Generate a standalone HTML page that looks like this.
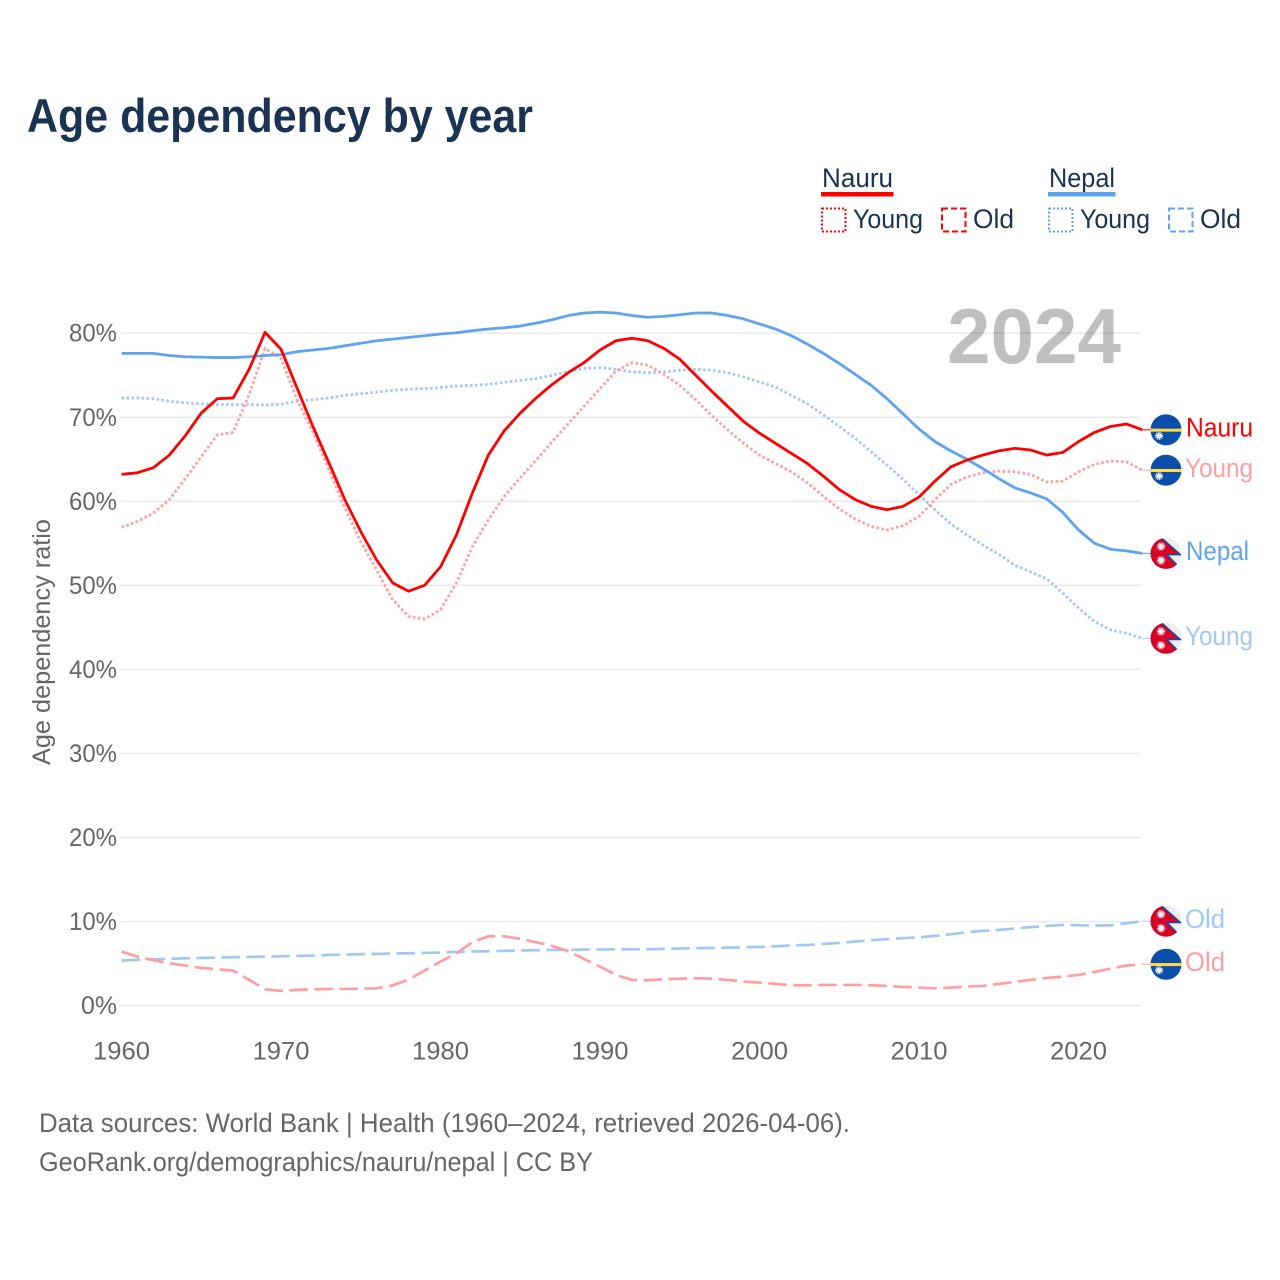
<!DOCTYPE html>
<html lang="en">
<head>
<meta charset="utf-8">
<title>Age dependency by year</title>
<style>
  html, body { margin: 0; padding: 0; background: #fff; }
  svg { display: block; font-family: "Liberation Sans", sans-serif; }
  .tick { fill: #666; font-size: 25px; }
  .legend-text { fill: #1b3353; font-size: 27px; }
  .foot { fill: #666; font-size: 27px; }
</style>
</head>
<body>
<svg id="chart" xmlns="http://www.w3.org/2000/svg" width="1280" height="1280" viewBox="0 0 1280 1280">
  <defs>
    <clipPath id="flag-clip"><circle cx="0" cy="0" r="15.5"></circle></clipPath>
    <g id="flag-nauru" clip-path="url(#flag-clip)">
      <rect x="-16" y="-16" width="32" height="32" fill="#0a4eab"></rect>
      <rect x="-16" y="-1.2" width="32" height="3" fill="#ffda44"></rect>
      <circle cx="-7" cy="6" r="2.6" fill="#f0f0f0"></circle>
      <circle cx="-7" cy="6" r="3.3" fill="none" stroke="#f0f0f0" stroke-width="1.6" stroke-dasharray="1.1 0.9"></circle>
    </g>
    <g id="flag-nepal" clip-path="url(#flag-clip)">
      <rect x="-16" y="-16" width="32" height="32" fill="#eeeeee"></rect>
      <polygon points="-16,-16 -5,-16 14.5,1.3 1,1.3 14.5,15 14.5,17 -16,17" fill="#d80027" stroke="#0a4eab" stroke-width="1.4"></polygon>
      <circle cx="-5" cy="-7" r="2.8" fill="#f0f0f0"></circle>
      <circle cx="-5" cy="-7" r="3.5" fill="none" stroke="#f0f0f0" stroke-width="1.6" stroke-dasharray="1.1 0.9"></circle>
      <circle cx="-5" cy="7" r="2.8" fill="#f0f0f0"></circle>
      <circle cx="-5" cy="7" r="3.5" fill="none" stroke="#f0f0f0" stroke-width="1.6" stroke-dasharray="1.1 0.9"></circle>
    </g>
  </defs>

  <rect x="0" y="0" width="1280" height="1280" fill="#ffffff"></rect>

  <text x="27" y="132" font-size="47" font-weight="700" fill="#1b3353" textLength="506" lengthAdjust="spacingAndGlyphs">Age dependency by year</text>

  <g>
    <g>
      <text class="legend-text" x="822" y="187" textLength="71" lengthAdjust="spacingAndGlyphs">Nauru</text>
      <rect x="821" y="192" width="72.5" height="4.5" fill="#ff0000"></rect>
      <rect x="822" y="208.500" width="23.500" height="23" fill="none" stroke="#ff0000" stroke-width="2" stroke-dasharray="2 2"></rect>
      <text class="legend-text" x="853" y="228" textLength="70" lengthAdjust="spacingAndGlyphs">Young</text>
      <rect x="942" y="208.500" width="23.500" height="23" fill="none" stroke="#ff0000" stroke-width="2" stroke-dasharray="6 3"></rect>
      <text class="legend-text" x="973" y="228" textLength="41" lengthAdjust="spacingAndGlyphs">Old</text>
    </g>
    <g>
      <text class="legend-text" x="1049" y="187" textLength="66" lengthAdjust="spacingAndGlyphs">Nepal</text>
      <rect x="1048" y="192" width="67.500" height="4.5" fill="#5ea3ee"></rect>
      <rect x="1049" y="208.500" width="23.500" height="23" fill="none" stroke="#5ea3ee" stroke-width="2" stroke-dasharray="2 2"></rect>
      <text class="legend-text" x="1080" y="228" textLength="70" lengthAdjust="spacingAndGlyphs">Young</text>
      <rect x="1169" y="208.500" width="23.500" height="23" fill="none" stroke="#5ea3ee" stroke-width="2" stroke-dasharray="6 3"></rect>
      <text class="legend-text" x="1200" y="228" textLength="41" lengthAdjust="spacingAndGlyphs">Old</text>
    </g>
  </g>

  <g id="grid"></g>
  <g id="yticks"></g>
  <g id="xticks"></g>

  <text transform="translate(50,642) rotate(-90)" text-anchor="middle" font-size="25" fill="#666" textLength="246" lengthAdjust="spacingAndGlyphs">Age dependency ratio</text>

  <text x="947" y="363" font-size="78" font-weight="700" fill="#000000" fill-opacity="0.25" textLength="174" lengthAdjust="spacingAndGlyphs">2024</text>

  <g id="series"></g>
  <g id="endmarks"></g>

  <text class="foot" x="39" y="1132" textLength="811" lengthAdjust="spacingAndGlyphs">Data sources: World Bank | Health (1960–2024, retrieved 2026-04-06).</text>
  <text class="foot" x="39" y="1171" textLength="554" lengthAdjust="spacingAndGlyphs">GeoRank.org/demographics/nauru/nepal | CC BY</text>
</svg>

<script>
const startYear = 1960;
const xTickYears = [1960, 1970, 1980, 1990, 2000, 2010, 2020];
const yTickValues = [0, 10, 20, 30, 40, 50, 60, 70, 80];

const nauruTotal = [63.2,63.4,64.0,65.5,67.8,70.5,72.2,72.3,75.7,80.1,78.1,73.5,68.9,64.6,60.2,56.4,53.0,50.3,49.3,50.0,52.2,56.0,61.0,65.5,68.4,70.5,72.3,73.9,75.3,76.5,78.0,79.1,79.4,79.1,78.2,76.9,75.0,73.1,71.3,69.5,68.1,66.9,65.7,64.5,63.0,61.4,60.2,59.4,59.0,59.4,60.5,62.4,64.1,64.9,65.5,66.0,66.3,66.1,65.5,65.8,67.1,68.2,68.9,69.2,68.5];
const nauruYoung = [56.9,57.6,58.6,60.2,62.7,65.3,67.9,68.2,72.7,78.2,77.0,72.1,68.2,63.8,59.2,55.2,51.8,48.3,46.3,46.0,47.1,50.3,54.6,57.8,60.6,62.8,64.9,67.1,69.2,71.3,73.4,75.5,76.5,76.2,75.1,73.8,72.1,70.2,68.5,66.9,65.5,64.5,63.5,62.2,60.6,59.1,57.9,57.0,56.6,57.1,58.2,60.2,62.0,62.9,63.4,63.6,63.5,63.2,62.3,62.4,63.5,64.4,64.8,64.7,63.7];
const nauruOld = [6.43,5.83,5.4,5.04,4.76,4.48,4.33,4.17,3.06,1.94,1.75,1.87,1.94,1.98,1.98,2.02,2.06,2.4,3.1,4.17,5.24,6.23,7.54,8.25,8.25,7.94,7.54,7.1,6.5,5.55,4.64,3.65,3.06,3.02,3.13,3.2,3.25,3.2,3.05,2.86,2.74,2.58,2.42,2.42,2.46,2.46,2.46,2.42,2.34,2.22,2.14,2.06,2.14,2.26,2.34,2.58,2.82,3.06,3.29,3.45,3.65,4.0,4.4,4.76,4.92];
const nepalTotal = [77.6,77.6,77.6,77.35,77.2,77.15,77.1,77.1,77.2,77.35,77.45,77.8,78.0,78.2,78.5,78.8,79.1,79.3,79.5,79.7,79.9,80.05,80.3,80.5,80.65,80.85,81.2,81.6,82.1,82.4,82.5,82.4,82.1,81.9,82.0,82.2,82.4,82.4,82.1,81.7,81.1,80.5,79.7,78.7,77.6,76.4,75.1,73.8,72.2,70.4,68.6,67.1,66.0,65.0,63.9,62.7,61.6,61.0,60.3,58.7,56.6,55.0,54.3,54.1,53.8];
const nepalYoung = [72.3,72.3,72.2,71.9,71.7,71.6,71.5,71.5,71.5,71.45,71.55,71.9,72.1,72.3,72.6,72.8,73.0,73.2,73.35,73.4,73.55,73.7,73.8,73.9,74.15,74.4,74.6,75.0,75.45,75.8,75.9,75.7,75.4,75.3,75.4,75.6,75.7,75.6,75.3,74.8,74.2,73.6,72.6,71.6,70.3,68.9,67.5,65.9,64.3,62.6,60.8,59.0,57.3,56.0,54.8,53.7,52.4,51.6,50.8,49.1,47.3,45.7,44.7,44.3,43.7];
const nepalOld = [5.36,5.44,5.52,5.56,5.63,5.67,5.71,5.75,5.79,5.83,5.87,5.91,5.95,6.03,6.07,6.11,6.15,6.19,6.23,6.27,6.31,6.39,6.43,6.47,6.51,6.55,6.59,6.63,6.63,6.67,6.67,6.7,6.7,6.7,6.75,6.79,6.83,6.87,6.9,6.94,6.98,7.06,7.14,7.22,7.34,7.46,7.62,7.78,7.9,8.02,8.13,8.29,8.49,8.73,8.89,9.0,9.17,9.33,9.48,9.6,9.56,9.52,9.56,9.8,10.04];

const NS = 'http://www.w3.org/2000/svg';
function xPos(year) { return 121.5 + (year - startYear) * 15.95; }
function yPos(value) { return 1005.6 - value * 8.405; }
function make(tag, attrs, parent) {
  const el = document.createElementNS(NS, tag);
  for (const key in attrs) el.setAttribute(key, attrs[key]);
  parent.appendChild(el);
  return el;
}

const gridGroup = document.getElementById('grid');
const yTickGroup = document.getElementById('yticks');
const xTickGroup = document.getElementById('xticks');
const seriesGroup = document.getElementById('series');
const endGroup = document.getElementById('endmarks');

yTickValues.forEach(function (v) {
  const line = make('line', { x1: 121, x2: 1141, y1: yPos(v), y2: yPos(v), stroke: '#e8e8e8', 'stroke-width': 1.4 }, gridGroup);
  
  
  const label = make('text', { x: 117, y: yPos(v) + 8.5, 'text-anchor': 'end', class: 'tick', textLength: v === 0 ? 36 : 48, lengthAdjust: 'spacingAndGlyphs' }, yTickGroup);
  label.textContent = v + '%';
  
  
});

xTickYears.forEach(function (y) {
  const label = make('text', { x: xPos(y), y: 1059.5, 'text-anchor': 'middle', class: 'tick', textLength: 57, lengthAdjust: 'spacingAndGlyphs' }, xTickGroup);
  label.textContent = String(y);
  
  
});

function drawSeries(name, values, color, width, dash) {
  const pts = values.map(function (v, i) { return xPos(startYear + i).toFixed(2) + ',' + yPos(v).toFixed(2); }).join(' ');
  const attrs = { points: pts, fill: 'none', stroke: color, 'stroke-width': width, 'stroke-linejoin': 'round' };
  if (dash) attrs['stroke-dasharray'] = dash;
  const line = make('polyline', attrs, seriesGroup);
  
  
}

function drawEnd(name, values, color, flag, text, labelX, labelWidth) {
  const last = values[values.length - 1];
  const y = yPos(last);
  const leader = make('line', { x1: xPos(startYear + values.length - 1), x2: 1152, y1: y, y2: y, stroke: color, 'stroke-width': 1 }, endGroup);
  
  
  const icon = make('use', { href: '#flag-' + flag, x: 1166, y: y }, endGroup);
  
  
  const label = make('text', { x: labelX, y: y + 6.6, fill: color, 'font-size': 27, textLength: labelWidth, lengthAdjust: 'spacingAndGlyphs' }, endGroup);
  label.textContent = text;
  
  
}

const colorRed = '#ff0000';
const colorRedSoft = '#ff9d9f';
const colorBlue = '#5ea3ee';
const colorBlueSoft = '#a0c8f3';
const dotted = '2.6 2.4';
const dashed = '18.5 6.5';

drawSeries('nepal-old', nepalOld, colorBlueSoft, 2.7, dashed);
drawSeries('nauru-old', nauruOld, colorRedSoft, 2.7, dashed);
drawSeries('nepal-young', nepalYoung, colorBlueSoft, 2.8, dotted);
drawSeries('nauru-young', nauruYoung, colorRedSoft, 2.8, dotted);
drawSeries('nepal-total', nepalTotal, colorBlue, 2.8, null);
drawSeries('nauru-total', nauruTotal, colorRed, 2.8, null);

drawEnd('nauru-total', nauruTotal, colorRed, 'nauru', 'Nauru', 1186, 67);
drawEnd('nauru-young', nauruYoung, colorRedSoft, 'nauru', 'Young', 1185, 68);
drawEnd('nepal-total', nepalTotal, colorBlue, 'nepal', 'Nepal', 1186, 63);
drawEnd('nepal-young', nepalYoung, colorBlueSoft, 'nepal', 'Young', 1185, 68);
drawEnd('nepal-old', nepalOld, colorBlueSoft, 'nepal', 'Old', 1185, 40);
drawEnd('nauru-old', nauruOld, colorRedSoft, 'nauru', 'Old', 1185, 40);
</script>
</body>
</html>
